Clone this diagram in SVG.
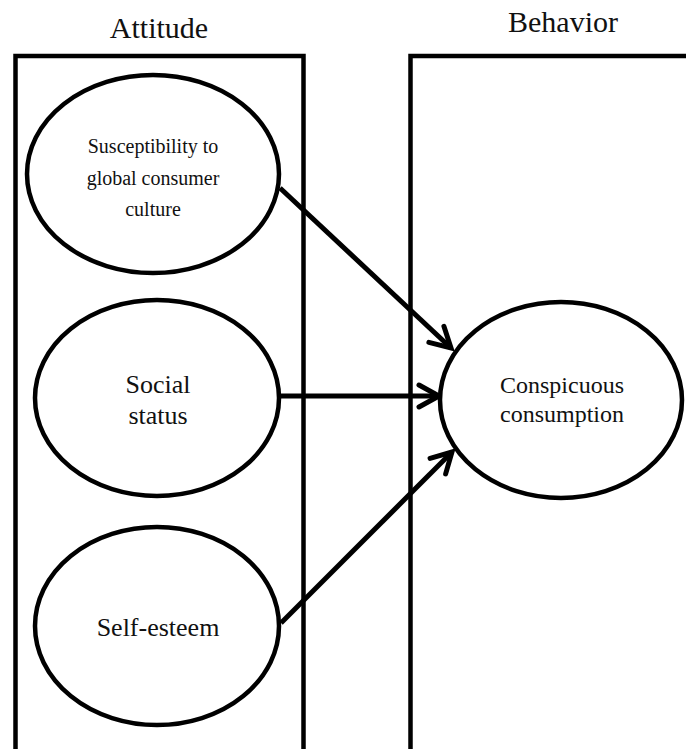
<svg xmlns="http://www.w3.org/2000/svg" width="686" height="749" viewBox="0 0 686 749">
  <style>
    .frame { fill: none; stroke: #000; stroke-width: 4.5; stroke-linejoin: miter; }
    .node { fill: #fff; stroke: #000; stroke-width: 4.5; }
    text { font-family: "Liberation Serif", "Times New Roman", serif; fill: #111; text-anchor: middle; }
    .head { font-size: 30px; }
    .big { font-size: 26px; }
    .mid { font-size: 24px; }
    .small { font-size: 20px; }
    .edge { fill: none; stroke: #000; stroke-width: 5; marker-end: url(#arrow); }
  </style>
  <defs>
    <marker id="arrow" viewBox="0 0 26 26" markerWidth="26" markerHeight="26" refX="22" refY="13" orient="auto" markerUnits="userSpaceOnUse" overflow="visible">
      <path d="M2,2 L22,13 L2,24" fill="none" stroke="#000" stroke-width="5" stroke-linecap="round" stroke-linejoin="miter"/>
    </marker>
  </defs>
  <rect width="686" height="749" fill="#fff"/>

  <g id="group-attitude" font-family="Liberation Serif, serif">
    <path class="frame" d="M15.5,749 V56 H303.5 V749"/>
    <text class="head" x="159" y="38">Attitude</text>
  </g>
  <g id="group-behavior" font-family="Liberation Serif, serif">
    <path class="frame" d="M410.5,749 V56 H690"/>
    <text class="head" x="563" y="32">Behavior</text>
  </g>

  <g id="connectors">
    <path class="edge" d="M280,188 L451,348"/>
    <path class="edge" d="M280,396 L439,396"/>
    <path class="edge" d="M281,623 L452,452"/>
  </g>

  <g id="node-susceptibility">
    <ellipse class="node" cx="153" cy="174" rx="126" ry="99"/>
    <text class="small" x="153" y="153">Susceptibility to</text>
    <text class="small" x="153" y="185">global consumer</text>
    <text class="small" x="153" y="216">culture</text>
  </g>
  <g id="node-social-status">
    <ellipse class="node" cx="157" cy="398" rx="122" ry="98"/>
    <text class="big" x="158" y="393">Social</text>
    <text class="big" x="158" y="424">status</text>
  </g>
  <g id="node-self-esteem">
    <ellipse class="node" cx="157" cy="626" rx="122" ry="99"/>
    <text class="big" x="158" y="636">Self-esteem</text>
  </g>
  <g id="node-conspicuous">
    <ellipse class="node" cx="561" cy="400" rx="121" ry="98"/>
    <text class="mid" x="562" y="393">Conspicuous</text>
    <text class="mid" x="562" y="422">consumption</text>
  </g>
</svg>
